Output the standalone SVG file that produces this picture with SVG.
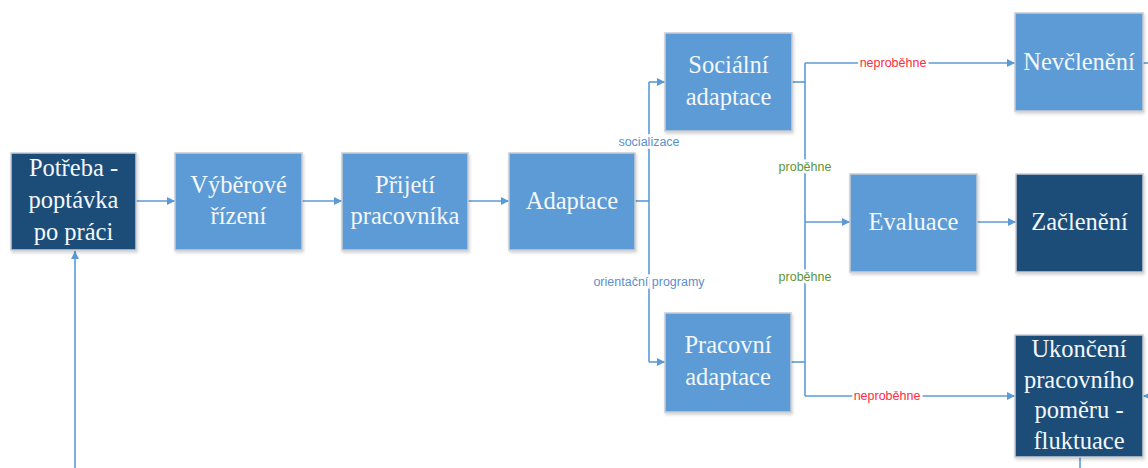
<svg xmlns="http://www.w3.org/2000/svg" width="1148" height="468" viewBox="0 0 1148 468">
  <style>
    .box { stroke: #c8ccd2; stroke-width: 1.5; filter: url(#shadow); }
    .mid { fill: #5b9bd5; }
    .dark { fill: #1f4e79; }
    .t { font-family: "Liberation Serif", "Times New Roman", serif; font-size: 24.5px; fill: #f4f7fb; text-anchor: middle; }
    .wire { fill: none; stroke: #5b9bd5; stroke-width: 1.6; }
    .lbl { font-family: "Liberation Sans", Arial, sans-serif; font-size: 12.5px; text-anchor: middle; dominant-baseline: central; paint-order: stroke; stroke: #ffffff; stroke-width: 5px; }
    .blue { fill: #5b8fcb; }
    .green { fill: #5e9438; }
    .red { fill: #ff2a40; }
  </style>
  <defs>
    <filter id="shadow" x="-10%" y="-10%" width="125%" height="125%">
      <feDropShadow dx="1" dy="2" stdDeviation="1.5" flood-color="#000000" flood-opacity="0.18"/>
    </filter>
    <marker id="arr" viewBox="0 0 10 10" refX="10" refY="5" markerWidth="8" markerHeight="8" markerUnits="userSpaceOnUse" orient="auto">
      <path d="M0,0 L10,5 L0,10 Z" fill="#5b9bd5"/>
    </marker>
  </defs>
  <rect width="1148" height="468" fill="#ffffff"/>

  <g id="connectors">
    <path class="wire" d="M136,201 H175" marker-end="url(#arr)"/>
    <path class="wire" d="M302,201 H342" marker-end="url(#arr)"/>
    <path class="wire" d="M468,201 H509" marker-end="url(#arr)"/>
    <path class="wire" d="M635,201 H649"/>
    <path class="wire" d="M649,82 V362"/>
    <path class="wire" d="M649,82 H665" marker-end="url(#arr)"/>
    <path class="wire" d="M649,362 H665" marker-end="url(#arr)"/>
    <path class="wire" d="M792,82 H805"/>
    <path class="wire" d="M791,362 H805"/>
    <path class="wire" d="M805,63 V396"/>
    <path class="wire" d="M805,63 H1015" marker-end="url(#arr)"/>
    <path class="wire" d="M805,222 H850" marker-end="url(#arr)"/>
    <path class="wire" d="M805,396 H1015" marker-end="url(#arr)"/>
    <path class="wire" d="M977,222 H1016" marker-end="url(#arr)"/>
    <path class="wire" d="M1143,63 H1150"/>
    <path class="wire" d="M1150,396 H1143" marker-end="url(#arr)"/>
    <path class="wire" d="M1080,457 V470"/>
    <path class="wire" d="M75,470 V251" marker-end="url(#arr)"/>
    <text class="lbl blue" x="649" y="142">socializace</text>
    <text class="lbl blue" x="649" y="282">orientační programy</text>
    <text class="lbl green" x="805" y="167">proběhne</text>
    <text class="lbl green" x="805" y="277">proběhne</text>
    <text class="lbl red" x="893" y="63">neproběhne</text>
    <text class="lbl red" x="887" y="396">neproběhne</text>
  </g>

  <g id="potreba">
    <rect class="box dark" x="11" y="153" width="125" height="97"/>
    <text class="t" x="73.5" y="176">Potřeba -</text>
    <text class="t" x="73.5" y="208">poptávka</text>
    <text class="t" x="73.5" y="240">po práci</text>
  </g>
  <g id="vyberove-rizeni">
    <rect class="box mid" x="175" y="153" width="127" height="97"/>
    <text class="t" x="238.5" y="193">Výběrové</text>
    <text class="t" x="238.5" y="224">řízení</text>
  </g>
  <g id="prijeti-pracovnika">
    <rect class="box mid" x="342" y="153" width="126" height="97"/>
    <text class="t" x="405" y="193">Přijetí</text>
    <text class="t" x="405" y="224">pracovníka</text>
  </g>
  <g id="adaptace">
    <rect class="box mid" x="509" y="153" width="126" height="97"/>
    <text class="t" x="572" y="209">Adaptace</text>
  </g>
  <g id="socialni-adaptace">
    <rect class="box mid" x="665" y="33" width="127" height="98"/>
    <text class="t" x="728.5" y="73">Sociální</text>
    <text class="t" x="728.5" y="105">adaptace</text>
  </g>
  <g id="pracovni-adaptace">
    <rect class="box mid" x="665" y="313" width="126" height="99"/>
    <text class="t" x="728" y="353">Pracovní</text>
    <text class="t" x="728" y="385">adaptace</text>
  </g>
  <g id="nevcleneni">
    <rect class="box mid" x="1015" y="13" width="128" height="98"/>
    <text class="t" x="1079" y="70">Nevčlenění</text>
  </g>
  <g id="evaluace">
    <rect class="box mid" x="850" y="174" width="127" height="98"/>
    <text class="t" x="913.5" y="230">Evaluace</text>
  </g>
  <g id="zacleneni">
    <rect class="box dark" x="1016" y="174" width="127" height="98"/>
    <text class="t" x="1079.5" y="230">Začlenění</text>
  </g>
  <g id="ukonceni">
    <rect class="box dark" x="1015" y="335" width="128" height="122"/>
    <text class="t" x="1079" y="357">Ukončení</text>
    <text class="t" x="1079" y="388">pracovního</text>
    <text class="t" x="1079" y="418">poměru -</text>
    <text class="t" x="1079" y="449">fluktuace</text>
  </g>
</svg>
